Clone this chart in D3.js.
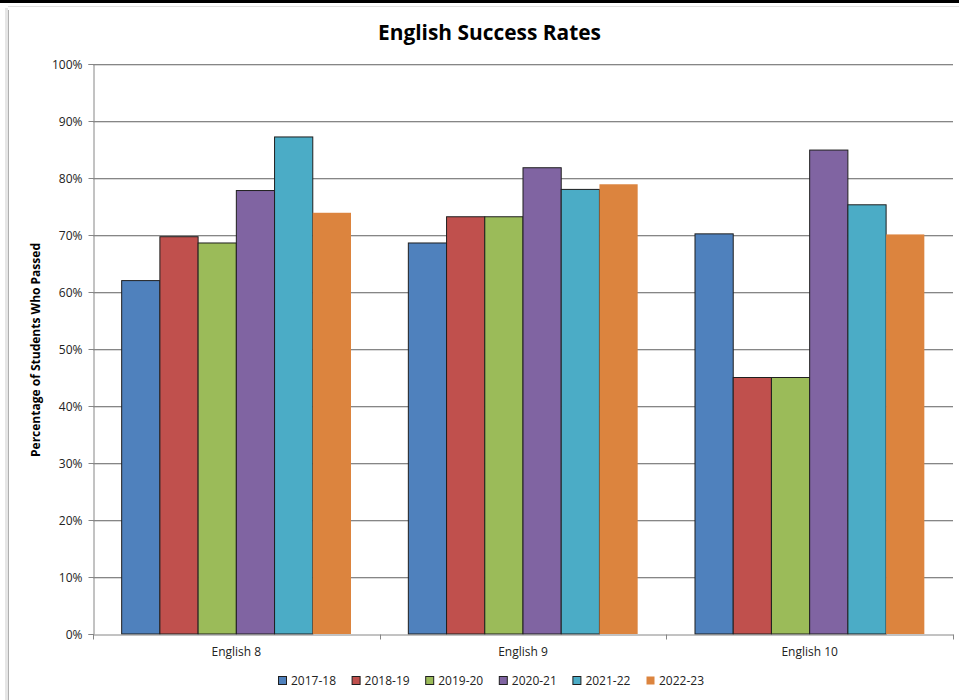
<!DOCTYPE html>
<html>
<head>
<meta charset="utf-8">
<script src="https://cdn.jsdelivr.net/npm/d3@7"></script>
<style>
  body { margin: 0; background: #fff; }
  svg { display: block; }
  text { font-family: "Open Sans", "Noto Sans", sans-serif; }
</style>
</head>
<body>
<script>
// Chart data
const categories = ["English 8", "English 9", "English 10"];
const years = ["2017-18", "2018-19", "2019-20", "2020-21", "2021-22", "2022-23"];
const rates2017_18 = [62.0, 68.6, 70.2];
const rates2018_19 = [69.7, 73.2, 45.0];
const rates2019_20 = [68.6, 73.2, 45.0];
const rates2020_21 = [77.8, 81.8, 84.9];
const rates2021_22 = [87.2, 78.0, 75.3];
const rates2022_23 = [73.9, 78.9, 70.1];
const seriesValues = [rates2017_18, rates2018_19, rates2019_20, rates2020_21, rates2021_22, rates2022_23];
const yTicks = [0, 10, 20, 30, 40, 50, 60, 70, 80, 90, 100];
const colors = ["#4F81BD", "#C0504D", "#9BBB59", "#8064A2", "#4BACC6", "#DC843E"];

const W = 959, H = 700;
const svg = d3.select("body").append("svg").attr("width", W).attr("height", H);

// Frame of the chart area
svg.append("rect").attr("x", 0).attr("y", 0).attr("width", W).attr("height", 3).attr("fill", "#000");
svg.append("rect").attr("x", 5).attr("y", 8).attr("width", 3).attr("height", H - 8).attr("fill", "#e6e6e6");
svg.append("rect").attr("x", 8).attr("y", 10).attr("width", 1).attr("height", H - 10).attr("fill", "#b0b0b0");
svg.append("rect").attr("x", 8).attr("y", 6).attr("width", W - 8).attr("height", 1).attr("fill", "#e0e0e0");

const plot = { left: 93, right: 953, top: 64, bottom: 634 };

const x0 = d3.scaleBand().domain(categories).range([plot.left, plot.right]).paddingInner(0).paddingOuter(0);
// Gap width of 150%: 6 bars + 1.5 bar widths of gap per category
const barW = x0.bandwidth() / 7.5;
const x1 = d3.scaleBand().domain(years).range([barW * 0.75, barW * 0.75 + barW * 6]).padding(0);
const y = d3.scaleLinear().domain([0, 100]).range([plot.bottom, plot.top]);

// Gridlines
svg.append("g").selectAll("line").data(yTicks.filter(t => t > 0)).join("line")
  .attr("x1", plot.left).attr("x2", plot.right)
  .attr("y1", d => Math.round(y(d)) + 0.5).attr("y2", d => Math.round(y(d)) + 0.5)
  .attr("stroke", "#868686").attr("stroke-width", 1);
svg.append("g").selectAll("line").data(yTicks.filter(t => t > 0)).join("line")
  .attr("x1", plot.left).attr("x2", plot.right)
  .attr("y1", d => Math.round(y(d)) + 1.5).attr("y2", d => Math.round(y(d)) + 1.5)
  .attr("stroke", "#d9d9d9").attr("stroke-width", 1);

// Bars
const groups = svg.append("g").selectAll("g").data(categories).join("g")
  .attr("transform", d => `translate(${x0(d)},0)`);
groups.selectAll("rect")
  .data((c, ci) => years.map((yr, si) => ({ yr, si, v: seriesValues[si][ci] })))
  .join("rect")
  .attr("x", d => x1(d.yr))
  .attr("y", d => y(d.v))
  .attr("width", x1.bandwidth())
  .attr("height", d => y(0) - y(d.v))
  .attr("fill", d => colors[d.si])
  .attr("stroke", d => d.si === 5 ? "none" : "#1f1f1f")
  .attr("stroke-width", 1);

// Y axis
const yAxis = d3.axisLeft(y).tickValues(yTicks).tickFormat(d => d + "%").tickSize(5).tickPadding(6);
const gy = svg.append("g").attr("transform", `translate(${plot.left + 0.5},0)`).call(yAxis);
gy.select(".domain").attr("stroke", "#868686");
gy.selectAll(".tick line").attr("stroke", "#868686");
gy.selectAll(".tick text").attr("font-size", 12).attr("fill", "#222").attr("dy", "0.35em")
  .attr("font-family", "'Liberation Sans Narrow', 'Open Sans', sans-serif");

// X axis
const xAxis = d3.axisBottom(x0).tickSize(0).tickPadding(13);
const gx = svg.append("g").attr("transform", `translate(0,${plot.bottom + 0.5})`).call(xAxis);
gx.select(".domain").attr("stroke", "#868686");
gx.selectAll(".tick text").attr("font-size", 12).attr("fill", "#222");
// category boundary ticks
const bounds = [plot.left, ...categories.map(c => x0(c) + x0.bandwidth())];
gx.selectAll(".bound").data(bounds).join("line").attr("class", "bound")
  .attr("x1", d => Math.round(d) + 0.5).attr("x2", d => Math.round(d) + 0.5)
  .attr("y1", 0).attr("y2", 5).attr("stroke", "#868686");

// Title
svg.append("text").attr("x", 489.5).attr("y", 40).attr("text-anchor", "middle")
  .attr("font-size", 21).attr("font-weight", "bold").attr("fill", "#000")
  .attr("textLength", 223).attr("lengthAdjust", "spacingAndGlyphs")
  .text("English Success Rates");

// Y axis title
svg.append("text").attr("transform", "translate(40,350) rotate(-90)").attr("text-anchor", "middle")
  .attr("font-size", 12).attr("font-weight", "bold").attr("fill", "#000")
  .attr("textLength", 214).attr("lengthAdjust", "spacingAndGlyphs")
  .text("Percentage of Students Who Passed");

// Legend
const legendX = d3.scaleBand().domain(years).range([278, 278 + 73.6 * 6]);
const lg = svg.append("g").selectAll("g").data(years).join("g")
  .attr("transform", d => `translate(${legendX(d)},676)`);
lg.append("rect").attr("x", 0.5).attr("y", 0.5).attr("width", 8).attr("height", 8)
  .attr("fill", (d, i) => colors[i]).attr("stroke", (d, i) => i === 5 ? "none" : "#1f1f1f");
lg.append("text").attr("x", 13).attr("y", 9).attr("font-size", 12).attr("fill", "#222").text(d => d);
</script>
</body>
</html>
